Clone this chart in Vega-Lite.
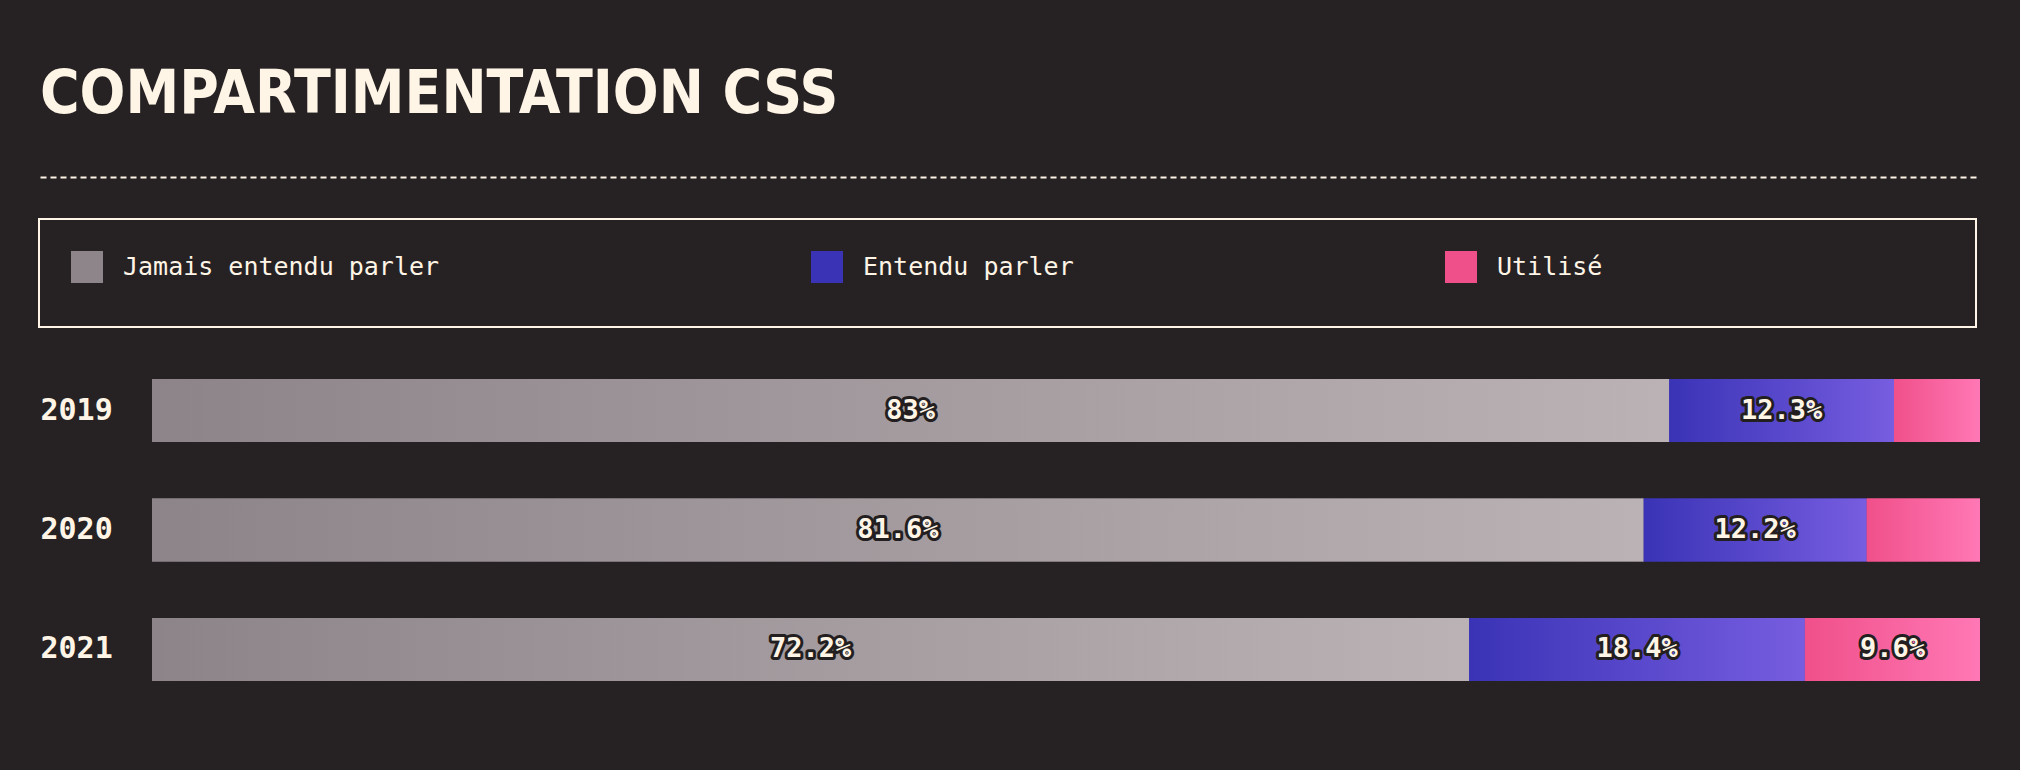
{
  "$schema": "https://vega.github.io/schema/vega-lite/v6.json",
  "width": 1940,
  "height": 302,
  "autosize": {"type": "none"},
  "padding": {"left": 40, "top": 379, "right": 40, "bottom": 89},
  "background": "#262224",
  "title": {
    "text": "COMPARTIMENTATION CSS",
    "anchor": "start",
    "frame": "group",
    "font": "DejaVu Sans Condensed, DejaVu Sans, sans-serif",
    "fontSize": 60,
    "fontWeight": "bold",
    "color": "#fff5e6",
    "baseline": "alphabetic",
    "offset": 4
  },
  "data": {
    "values": [
      {"annee": "2019", "reponse": "Jamais entendu parler", "part": 0.83},
      {"annee": "2019", "reponse": "Entendu parler", "part": 0.123},
      {"annee": "2019", "reponse": "Utilisé", "part": 0.047},
      {"annee": "2020", "reponse": "Jamais entendu parler", "part": 0.816},
      {"annee": "2020", "reponse": "Entendu parler", "part": 0.122},
      {"annee": "2020", "reponse": "Utilisé", "part": 0.062},
      {"annee": "2021", "reponse": "Jamais entendu parler", "part": 0.722},
      {"annee": "2021", "reponse": "Entendu parler", "part": 0.184},
      {"annee": "2021", "reponse": "Utilisé", "part": 0.096}
    ]
  },
  "transform": [
    {"stack": "part", "groupby": ["annee"], "as": ["x0", "x1"], "offset": "normalize"}
  ],
  "encoding": {
    "y": {
      "field": "annee",
      "type": "nominal",
      "sort": ["2019", "2020", "2021"],
      "scale": {"paddingInner": 0.4728, "paddingOuter": 0},
      "axis": {
        "title": null,
        "domain": false,
        "ticks": false,
        "tickSize": 0,
        "labelPadding": 0,
        "labelAlign": "left",
        "labelFont": "DejaVu Sans Mono",
        "labelFontWeight": "bold",
        "labelFontSize": 30,
        "labelColor": "#fff5e6"
      }
    }
  },
  "layer": [
    {
      "mark": {"type": "bar"},
      "encoding": {
        "x": {
          "field": "x0",
          "type": "quantitative",
          "scale": {"domain": [-0.061269, 1], "nice": false, "zero": false},
          "axis": {
            "orient": "top",
            "offset": 202,
            "title": null,
            "domain": true,
            "domainColor": "#fff5e6",
            "domainWidth": 2,
            "domainDash": [6, 4],
            "ticks": false,
            "labels": false,
            "grid": false
          }
        },
        "x2": {"field": "x1"},
        "color": {
          "field": "reponse",
          "type": "nominal",
          "scale": {
            "domain": ["Jamais entendu parler", "Entendu parler", "Utilisé"],
            "range": ["#8e858b", "#3a33b6", "#f0508a"]
          },
          "legend": {
            "orient": "none",
            "legendX": -1,
            "legendY": -160,
            "direction": "horizontal",
            "columns": 3,
            "columnPadding": 371,
            "padding": 32,
            "strokeColor": "#fff5e6",
            "symbolType": "square",
            "symbolSize": 1024,
            "symbolStrokeWidth": 0,
            "symbolOpacity": 1,
            "labelFont": "DejaVu Sans Mono",
            "labelFontSize": 25,
            "labelColor": "#fff5e6",
            "labelOffset": 20,
            "labelLimit": 600,
            "title": " ",
            "titleOrient": "right",
            "titlePadding": 342,
            "titleFontSize": 56,
            "titleColor": "#262224"
          }
        }
      }
    },
    {
      "transform": [{"filter": "datum.reponse === 'Jamais entendu parler'"}],
      "mark": {
        "type": "bar",
        "fill": {
          "gradient": "linear", "x1": 0, "y1": 0, "x2": 1, "y2": 0,
          "stops": [{"offset": 0, "color": "#8d848a"}, {"offset": 1, "color": "#bbb2b5"}]
        }
      },
      "encoding": {
        "x": {"field": "x0", "type": "quantitative", "scale": {"domain": [-0.061269, 1], "nice": false, "zero": false}},
        "x2": {"field": "x1"}
      }
    },
    {
      "transform": [{"filter": "datum.reponse === 'Entendu parler'"}],
      "mark": {
        "type": "bar",
        "fill": {
          "gradient": "linear", "x1": 0, "y1": 0, "x2": 1, "y2": 0,
          "stops": [{"offset": 0, "color": "#3a33b6"}, {"offset": 1, "color": "#775de0"}]
        }
      },
      "encoding": {
        "x": {"field": "x0", "type": "quantitative", "scale": {"domain": [-0.061269, 1], "nice": false, "zero": false}},
        "x2": {"field": "x1"}
      }
    },
    {
      "transform": [{"filter": "datum.reponse === 'Utilisé'"}],
      "mark": {
        "type": "bar",
        "fill": {
          "gradient": "linear", "x1": 0, "y1": 0, "x2": 1, "y2": 0,
          "stops": [{"offset": 0, "color": "#f0508a"}, {"offset": 1, "color": "#ff78b5"}]
        }
      },
      "encoding": {
        "x": {"field": "x0", "type": "quantitative", "scale": {"domain": [-0.061269, 1], "nice": false, "zero": false}},
        "x2": {"field": "x1"}
      }
    },
    {
      "transform": [
        {"filter": "datum.part >= 0.09"},
        {"fold": ["x0", "x1"], "as": ["bord", "pos"]},
        {"aggregate": [{"op": "mean", "field": "pos", "as": "milieu"}], "groupby": ["annee", "reponse", "part"]}
      ],
      "mark": {
        "type": "text",
        "font": "DejaVu Sans Mono",
        "fontWeight": "bold",
        "fontSize": 27,
        "baseline": "middle",
        "align": "center",
        "fill": "#231f20",
        "stroke": "#231f20",
        "strokeWidth": 6,
        "strokeJoin": "round"
      },
      "encoding": {
        "x": {"field": "milieu", "type": "quantitative", "scale": {"domain": [-0.061269, 1], "nice": false, "zero": false}},
        "text": {"field": "part", "type": "quantitative", "format": ".1~%"}
      }
    },
    {
      "transform": [
        {"filter": "datum.part >= 0.09"},
        {"fold": ["x0", "x1"], "as": ["bord", "pos"]},
        {"aggregate": [{"op": "mean", "field": "pos", "as": "milieu"}], "groupby": ["annee", "reponse", "part"]}
      ],
      "mark": {
        "type": "text",
        "font": "DejaVu Sans Mono",
        "fontWeight": "bold",
        "fontSize": 27,
        "baseline": "middle",
        "align": "center",
        "fill": "#fff5e6"
      },
      "encoding": {
        "x": {"field": "milieu", "type": "quantitative", "scale": {"domain": [-0.061269, 1], "nice": false, "zero": false}},
        "text": {"field": "part", "type": "quantitative", "format": ".1~%"}
      }
    }
  ],
  "config": {
    "view": {"stroke": null},
    "legend": {"strokeWidth": 2}
  }
}
